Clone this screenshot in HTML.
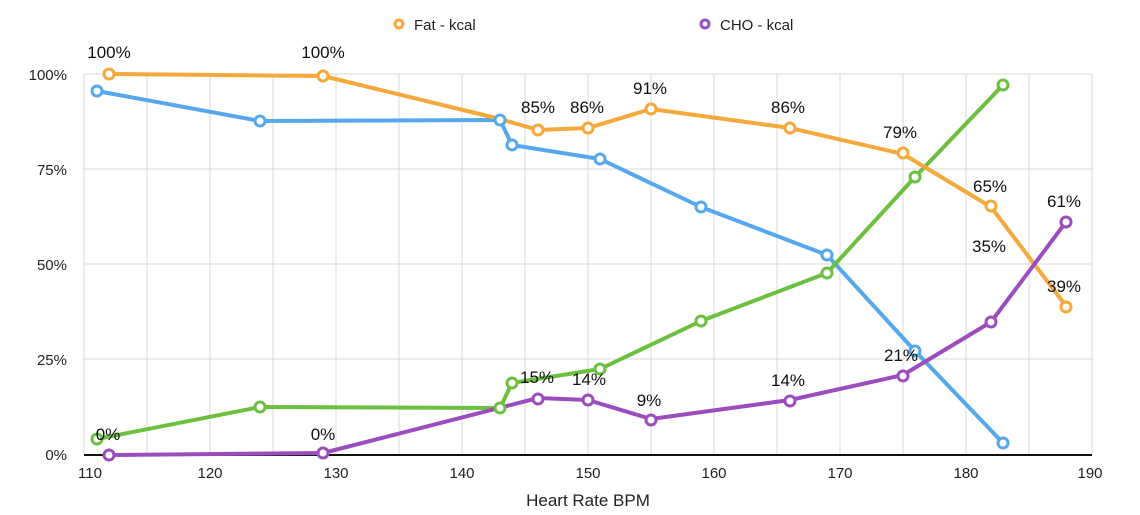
<!DOCTYPE html>
<html><head><meta charset="utf-8"><style>html,body{margin:0;padding:0;background:#fff}svg{display:block}text{font-family:"Liberation Sans",sans-serif}</style></head><body>
<svg width="1140" height="515" viewBox="0 0 1140 515">
<g stroke="#d8d8d8" stroke-width="1">
<line x1="84" y1="74" x2="1092" y2="74"/><line x1="84" y1="169" x2="1092" y2="169"/><line x1="84" y1="264" x2="1092" y2="264"/><line x1="84" y1="359" x2="1092" y2="359"/>
<line x1="84" y1="74" x2="84" y2="454"/><line x1="147" y1="74" x2="147" y2="454"/><line x1="210" y1="74" x2="210" y2="454"/><line x1="273" y1="74" x2="273" y2="454"/><line x1="336" y1="74" x2="336" y2="454"/><line x1="399" y1="74" x2="399" y2="454"/><line x1="462" y1="74" x2="462" y2="454"/><line x1="525" y1="74" x2="525" y2="454"/><line x1="588" y1="74" x2="588" y2="454"/><line x1="651" y1="74" x2="651" y2="454"/><line x1="714" y1="74" x2="714" y2="454"/><line x1="777" y1="74" x2="777" y2="454"/><line x1="840" y1="74" x2="840" y2="454"/><line x1="903" y1="74" x2="903" y2="454"/><line x1="966" y1="74" x2="966" y2="454"/><line x1="1029" y1="74" x2="1029" y2="454"/><line x1="1092" y1="74" x2="1092" y2="454"/>
</g>
<line x1="84" y1="455" x2="1092" y2="455" stroke="#111" stroke-width="2"/>
<g font-size="15" fill="#222" text-anchor="end">
<text x="67" y="80">100%</text><text x="67" y="175">75%</text><text x="67" y="270">50%</text><text x="67" y="365">25%</text><text x="67" y="460">0%</text></g>
<g font-size="15" fill="#222" text-anchor="middle">
<text x="90" y="478">110</text><text x="210" y="478">120</text><text x="336" y="478">130</text><text x="462" y="478">140</text><text x="588" y="478">150</text><text x="714" y="478">160</text><text x="840" y="478">170</text><text x="966" y="478">180</text><text x="1090" y="478">190</text>
<text x="588" y="506" font-size="17">Heart Rate BPM</text></g>
<g fill="#fff" stroke-width="3">
<circle cx="399" cy="24" r="4" stroke="#F5A83B"/><circle cx="705" cy="24" r="4" stroke="#9B4DBE"/></g>
<g font-size="15" fill="#222"><text x="414" y="30">Fat - kcal</text><text x="720" y="30">CHO - kcal</text></g>
<g fill="none" stroke-width="4" stroke-linejoin="round">
<polyline stroke="#56A8EC" points="97,91 260,121 500,120 512,145 600,159 701,207 827,255 915,351 1003,443"/>
<polyline stroke="#6DC03F" points="97,439 260,407 500,408 512,383 600,369 701,321 827,273 915,177 1003,85"/>
<polyline stroke="#F5A83B" points="109,74 323,76 500,119 538,130 588,128 651,109 790,128 903,154 991,207 1066,306"/>
<polyline stroke="#9B4DBE" points="109,455 323,453 538,398 588,400 651,419 790,400 903,375 991,322 1066,222"/>
</g>
<g fill="#fff" stroke-width="3">
<g stroke="#56A8EC"><circle cx="97" cy="91" r="5"/><circle cx="260" cy="121" r="5"/><circle cx="500" cy="120" r="5"/><circle cx="512" cy="145" r="5"/><circle cx="600" cy="159" r="5"/><circle cx="701" cy="207" r="5"/><circle cx="827" cy="255" r="5"/><circle cx="915" cy="351" r="5"/><circle cx="1003" cy="443" r="5"/></g>
<g stroke="#6DC03F"><circle cx="97" cy="439" r="5"/><circle cx="260" cy="407" r="5"/><circle cx="500" cy="408" r="5"/><circle cx="512" cy="383" r="5"/><circle cx="600" cy="369" r="5"/><circle cx="701" cy="321" r="5"/><circle cx="827" cy="273" r="5"/><circle cx="915" cy="177" r="5"/><circle cx="1003" cy="85" r="5"/></g>
<g stroke="#F5A83B"><circle cx="109" cy="74" r="5"/><circle cx="323" cy="76" r="5"/><circle cx="538" cy="130" r="5"/><circle cx="588" cy="128" r="5"/><circle cx="651" cy="109" r="5"/><circle cx="790" cy="128" r="5"/><circle cx="903" cy="153" r="5"/><circle cx="991" cy="206" r="5"/><circle cx="1066" cy="307" r="5"/></g>
<g stroke="#9B4DBE"><circle cx="109" cy="455" r="5"/><circle cx="323" cy="453" r="5"/><circle cx="538" cy="399" r="5"/><circle cx="588" cy="400" r="5"/><circle cx="651" cy="420" r="5"/><circle cx="790" cy="401" r="5"/><circle cx="903" cy="376" r="5"/><circle cx="991" cy="322" r="5"/><circle cx="1066" cy="222" r="5"/></g>
</g>
<g font-size="17" fill="#111" text-anchor="middle">
<text x="109" y="58">100%</text><text x="323" y="58">100%</text><text x="538" y="113">85%</text><text x="587" y="113">86%</text><text x="650" y="94">91%</text><text x="788" y="113">86%</text><text x="900" y="138">79%</text><text x="990" y="192">65%</text><text x="1064" y="292">39%</text>
<text x="1064" y="207">61%</text><text x="989" y="252">35%</text><text x="901" y="361">21%</text><text x="788" y="386">14%</text><text x="649" y="406">9%</text><text x="589" y="385">14%</text><text x="537" y="383">15%</text><text x="323" y="440">0%</text><text x="108" y="440">0%</text>
</g>
</svg>
</body></html>
